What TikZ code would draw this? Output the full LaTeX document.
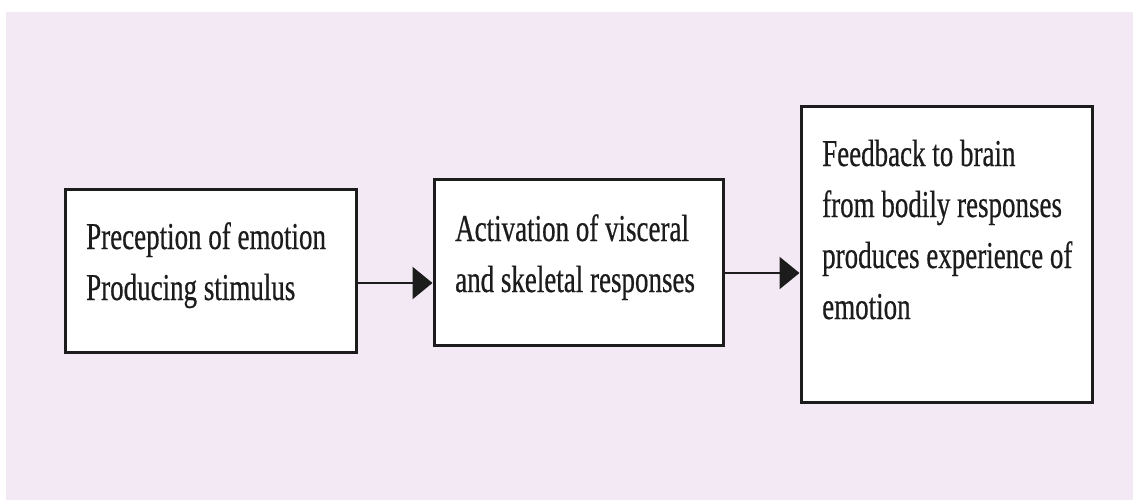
\documentclass[tikz,border=0pt]{standalone}
\usepackage{fontspec}
\setmainfont{Liberation Serif}
\newfontfamily\boxfont{Liberation Serif}[FakeStretch=0.71,FakeBold=0.5]
\usetikzlibrary{arrows.meta}
\definecolor{paper}{RGB}{243,233,244}
\definecolor{ink}{RGB}{28,28,28}
\tikzset{
  stagebox/.style={draw=ink, line width=3pt, fill=white, rectangle, inner sep=0pt},
  % base anchor of a multi-line node sits on its last line
  stagetext/.style={anchor=base west, inner sep=0pt, align=left, text=ink,
    font=\boxfont\fontsize{38}{51}\selectfont},
  flow/.style={draw=ink, line width=2.6pt, -{Triangle[length=20pt,width=32pt]}}
}
\begin{document}
\begin{tikzpicture}[x=1pt,y=-1pt]
  \useasboundingbox (0,0) rectangle (1133,500);
  \fill[white] (0,0) rectangle (1133,500);
  \fill[paper] (6,12) rectangle (1133,500);

  % the three stages
  \node[stagebox, minimum width=291pt, minimum height=162pt] (s1) at (210.5,271) {};
  \node[stagebox, minimum width=289pt, minimum height=165pt] (s2) at (578.5,262.5) {};
  \node[stagebox, minimum width=291pt, minimum height=295pt] (s3) at (946.5,254.5) {};

  \node[stagetext] (t1) at (86,300) {Preception of emotion\\Producing stimulus};
  \node[stagetext] (t2) at (455,292) {Activation of visceral\\and skeletal responses};
  \node[stagetext] (t3) at (822,319) {Feedback to brain\\from bodily responses\\produces experience of\\emotion};

  % connectors between the stages
  \coordinate (h1) at (0,283);
  \coordinate (h2) at (0,273);
  \draw[flow] (s1.east |- h1) -- (s2.west |- h1);
  \draw[flow] (s2.east |- h2) -- (s3.west |- h2);
\end{tikzpicture}
\end{document}
